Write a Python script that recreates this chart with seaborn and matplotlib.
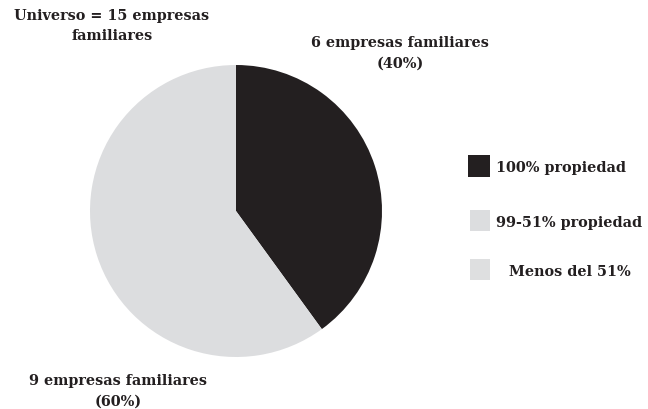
import matplotlib
matplotlib.use("Agg")
import matplotlib.pyplot as plt
from matplotlib.patches import Rectangle
import seaborn as sns

# Datos
categorias = ["100% propiedad", "99-51% propiedad", "Menos del 51%"]
empresas = [6, 9]
porcentajes = [40, 60]
total = 15
colores = ["#231f20", "#dcdddf", "#dedfe0"]

sns.set_theme(style="white")
plt.rcParams["font.family"] = ["DejaVu Serif"]
plt.rcParams["font.weight"] = "bold"

W, H = 648, 410
fig = plt.figure(figsize=(W / 100, H / 100), dpi=100)
fig.patch.set_facecolor("white")

# Pie: center (236, 212) px, radius 146 px
cx, cy, r = 236, 212, 146
ax = fig.add_axes([(cx - r) / W, (H - cy - r) / H, 2 * r / W, 2 * r / H])
ax.pie(empresas, colors=colores[:2], startangle=90, counterclock=False,
       radius=1.0, wedgeprops=dict(linewidth=0))
ax.set_xlim(-1, 1)
ax.set_ylim(-1, 1)
ax.set_aspect("equal")
ax.axis("off")

fs = 10.4
def ftext(x, y, s, ha="center"):
    fig.text(x / W, 1 - y / H, s, ha=ha, va="center", fontsize=fs,
             fontweight="bold", color="#231f20", linespacing=1.6)

ftext(112, 26, f"Universo = {total} empresas\nfamiliares")
ftext(400, 53, f"{empresas[0]} empresas familiares\n({porcentajes[0]}%)")
ftext(118, 391, f"{empresas[1]} empresas familiares\n({porcentajes[1]}%)")

# Legend
leg = [(468, 156, 22, 22), (470, 211, 20, 21), (470, 260, 20, 21)]
txt = [(496, 168), (496, 223), (509, 272)]
for (x, y, w, h), (tx, ty), lab, col in zip(leg, txt, categorias, colores):
    fig.patches.append(Rectangle((x / W, 1 - (y + h) / H), w / W, h / H,
                                 transform=fig.transFigure, facecolor=col,
                                 edgecolor="none"))
    ftext(tx, ty, lab, ha="left")

fig.savefig("out.png", dpi=100, facecolor="white")
